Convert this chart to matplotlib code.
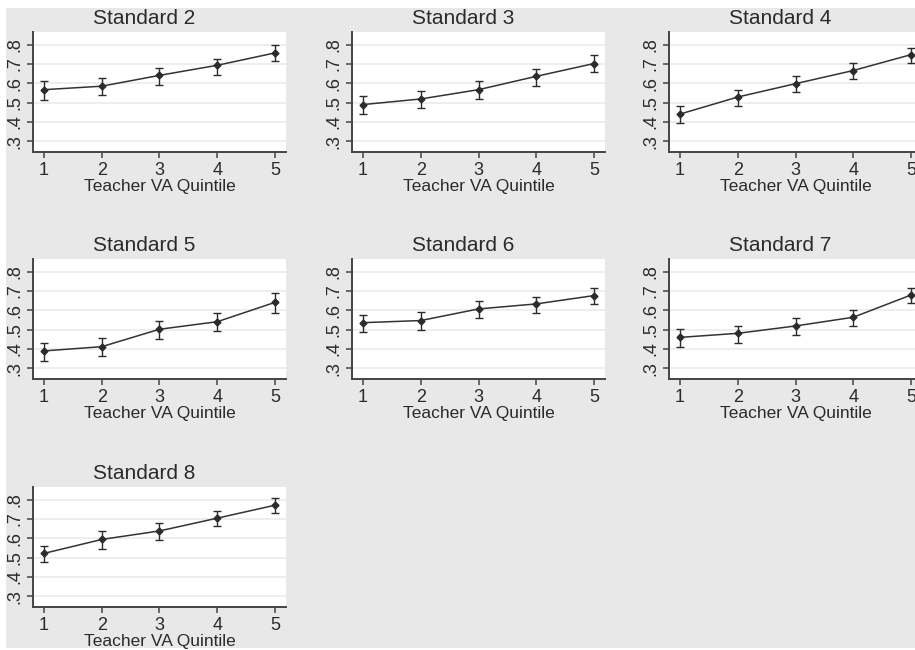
import matplotlib
matplotlib.use("Agg")
import matplotlib.pyplot as plt
from matplotlib.patches import Rectangle
import numpy as np

plt.rcParams['font.family'] = ['Liberation Sans', 'DejaVu Sans']

# Mean and 95% CI by teacher VA quintile, one list per standard
quintiles = [1, 2, 3, 4, 5]
titles = ["Standard 2", "Standard 3", "Standard 4", "Standard 5",
          "Standard 6", "Standard 7", "Standard 8"]

std2_mean = [0.567, 0.585, 0.641, 0.693, 0.757]
std2_lo = [0.516, 0.538, 0.593, 0.645, 0.714]
std2_hi = [0.610, 0.628, 0.679, 0.728, 0.800]

std3_mean = [0.490, 0.519, 0.567, 0.636, 0.702]
std3_lo = [0.441, 0.472, 0.521, 0.588, 0.659]
std3_hi = [0.533, 0.562, 0.610, 0.674, 0.745]

std4_mean = [0.441, 0.529, 0.598, 0.666, 0.748]
std4_lo = [0.395, 0.481, 0.555, 0.622, 0.705]
std4_hi = [0.484, 0.567, 0.636, 0.705, 0.783]

std5_mean = [0.390, 0.412, 0.502, 0.541, 0.641]
std5_lo = [0.340, 0.364, 0.453, 0.495, 0.588]
std5_hi = [0.433, 0.455, 0.545, 0.584, 0.691]

std6_mean = [0.536, 0.547, 0.607, 0.633, 0.676]
std6_lo = [0.486, 0.498, 0.559, 0.584, 0.631]
std6_hi = [0.576, 0.590, 0.648, 0.667, 0.717]

std7_mean = [0.460, 0.481, 0.519, 0.564, 0.679]
std7_lo = [0.412, 0.433, 0.472, 0.521, 0.640]
std7_hi = [0.503, 0.519, 0.559, 0.602, 0.717]

std8_mean = [0.522, 0.594, 0.638, 0.704, 0.771]
std8_lo = [0.476, 0.546, 0.590, 0.662, 0.730]
std8_hi = [0.559, 0.636, 0.681, 0.740, 0.807]

means = [std2_mean, std3_mean, std4_mean, std5_mean, std6_mean, std7_mean, std8_mean]
lows = [std2_lo, std3_lo, std4_lo, std5_lo, std6_lo, std7_lo, std8_lo]
highs = [std2_hi, std3_hi, std4_hi, std5_hi, std6_hi, std7_hi, std8_hi]

yticks = [0.3, 0.4, 0.5, 0.6, 0.7, 0.8]
ytick_labels = [".3", ".4", ".5", ".6", ".7", ".8"]

W, H = 915, 650
fig = plt.figure(figsize=(W / 100, H / 100), dpi=100, facecolor="white")

# gray graph region, with a thin white margin at left/top/bottom
fig.patches.append(Rectangle((6 / W, 2 / H), 1 - 6 / W, 1 - 10 / H,
                             transform=fig.transFigure, facecolor="#e8e8e8",
                             edgecolor="none", zorder=-10))

# axes placement in pixels (left, top of plot area)
col_left = [33, 352, 669]
row_top = [32, 259, 487]
ax_w, ax_h = 253, 120

dark = "#2b2b2b"

for i, title in enumerate(titles):
    r, c = divmod(i, 3)
    left = col_left[c] / W
    bottom = 1 - (row_top[r] + ax_h) / H
    ax = fig.add_axes([left, bottom, ax_w / W, ax_h / H])
    ax.set_facecolor("white")

    m = np.array(means[i])
    lo = np.array(lows[i])
    hi = np.array(highs[i])
    ax.errorbar(quintiles, m, yerr=[m - lo, hi - m], color="#333333", lw=1.1,
                marker="D", ms=3.5, mfc=dark, mec=dark, ecolor=dark,
                elinewidth=1.0, capsize=3, capthick=1.0, zorder=3)

    ax.set_xlim(0.81, 5.19)
    ax.set_ylim(0.245, 0.865)
    ax.set_xticks(quintiles)
    ax.set_yticks(yticks)
    ax.set_yticklabels(ytick_labels, rotation=90, va="center")
    ax.grid(axis="y", color="#ebebeb", lw=1.2)
    ax.set_axisbelow(True)

    for s in ["top", "right"]:
        ax.spines[s].set_visible(False)
    for s in ["left", "bottom"]:
        ax.spines[s].set_color("#444444")
        ax.spines[s].set_linewidth(1.4)

    ax.tick_params(axis="x", length=4, width=1.1, color="#444444",
                   labelsize=13, labelcolor=dark, pad=3)
    ax.tick_params(axis="y", length=4, width=1.1, color="#444444",
                   labelsize=13, labelcolor=dark, pad=3)

    ax.set_xlabel("Teacher VA Quintile", fontsize=12.5, color=dark, labelpad=0)
    ax.text(0.44, 1.03, title, transform=ax.transAxes, ha="center",
            va="bottom", fontsize=15, color=dark)

fig.savefig("out.png", dpi=100, facecolor=fig.get_facecolor())
